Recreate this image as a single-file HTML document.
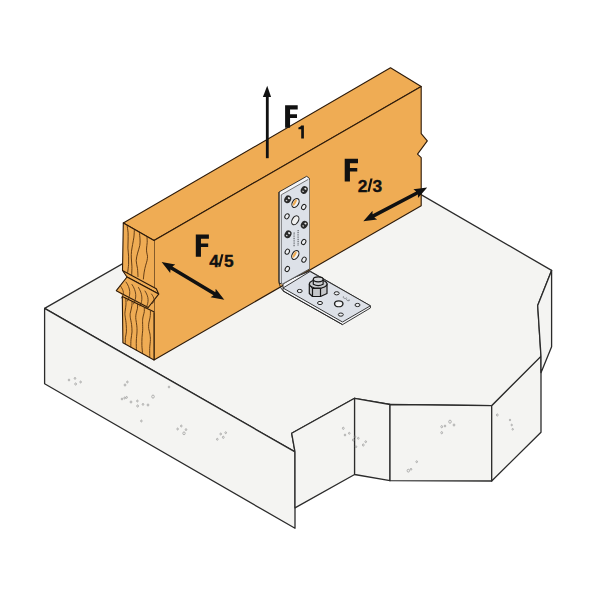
<!DOCTYPE html>
<html><head><meta charset="utf-8">
<style>
html,body{margin:0;padding:0;background:#fff;width:600px;height:600px;overflow:hidden}
svg{display:block}
text{font-family:"Liberation Sans",sans-serif;font-weight:bold;fill:#111}
</style></head><body>
<svg width="600" height="600" viewBox="0 0 600 600">
<rect width="600" height="600" fill="#fff"/>
<g fill="#f4f4f2" stroke="#2b2b2b" stroke-width="1.3" stroke-linejoin="round">
<polygon points="44.6,308.4 332.7,143.4 551.6,270.4 537.7,305.5 541,356.4 491.7,405.7 390,404.5 354.6,398.3 291.7,433.3 295,451.9"/>
<polygon points="44.6,308.4 295,451.9 295,528.3 44.6,383.8"/>
<polygon points="291.7,433.3 354.6,398.3 354.6,474.5 295,507.9 295,451.9"/>
<polygon points="354.6,398.3 390,404.5 390,480.7 354.6,474.5"/>
<polygon points="390,404.5 491.7,405.7 491.7,481 390,480.7"/>
<polygon points="491.7,405.7 541,356.4 541,432.2 491.7,481"/>
<polygon points="551.6,270.4 551.6,346.7 541,372.7 541,356.4 537.7,305.5"/>
</g>
<g fill="none" stroke="#8a8a8a" stroke-width="0.6"><ellipse cx="69" cy="380" rx="0.8" ry="0.96"/><ellipse cx="75" cy="378.4" rx="0.8" ry="0.96"/><ellipse cx="75.6" cy="384" rx="0.9" ry="1.08"/><ellipse cx="80.6" cy="382" rx="0.8" ry="0.96"/><ellipse cx="125" cy="385" rx="0.9" ry="1.08"/><ellipse cx="127.4" cy="382" rx="0.8" ry="0.96"/><ellipse cx="122" cy="399" rx="0.8" ry="0.96"/><ellipse cx="124.6" cy="398" rx="0.8" ry="0.96"/><ellipse cx="126.6" cy="397.4" rx="0.8" ry="0.96"/><ellipse cx="131" cy="402" rx="0.9" ry="1.08"/><ellipse cx="137.4" cy="401" rx="0.8" ry="0.96"/><ellipse cx="137.6" cy="406" rx="0.9" ry="1.08"/><ellipse cx="143" cy="404.4" rx="0.8" ry="0.96"/><ellipse cx="148" cy="405" rx="0.9" ry="1.08"/><ellipse cx="153" cy="396.6" rx="1.3" ry="1.56"/><ellipse cx="169" cy="387" rx="0.8" ry="0.96"/><ellipse cx="141.4" cy="421" rx="0.8" ry="0.96"/><ellipse cx="177.6" cy="429" rx="0.8" ry="0.96"/><ellipse cx="181.3" cy="426" rx="0.8" ry="0.96"/><ellipse cx="186" cy="429.6" rx="0.8" ry="0.96"/><ellipse cx="184" cy="433.3" rx="1.2" ry="1.44"/><ellipse cx="217.3" cy="439.3" rx="0.8" ry="0.96"/><ellipse cx="220.7" cy="434" rx="0.8" ry="0.96"/><ellipse cx="223.3" cy="437.3" rx="0.9" ry="1.08"/><ellipse cx="225.7" cy="432.7" rx="0.8" ry="0.96"/><ellipse cx="343.3" cy="428.3" rx="0.9" ry="1.08"/><ellipse cx="345" cy="435" rx="0.8" ry="0.96"/><ellipse cx="349.3" cy="433.3" rx="0.8" ry="0.96"/><ellipse cx="353.3" cy="440" rx="0.9" ry="1.08"/><ellipse cx="355" cy="436.7" rx="0.8" ry="0.96"/><ellipse cx="358.3" cy="438.3" rx="0.8" ry="0.96"/><ellipse cx="356" cy="446.7" rx="0.8" ry="0.96"/><ellipse cx="363.3" cy="445" rx="0.9" ry="1.08"/><ellipse cx="365.7" cy="441.7" rx="0.8" ry="0.96"/><ellipse cx="441.7" cy="426.7" rx="0.9" ry="1.08"/><ellipse cx="445" cy="426" rx="0.8" ry="0.96"/><ellipse cx="441.7" cy="432.7" rx="0.9" ry="1.08"/><ellipse cx="450" cy="421.7" rx="1.3" ry="1.56"/><ellipse cx="454" cy="425" rx="0.9" ry="1.08"/><ellipse cx="408.3" cy="470.7" rx="1.2" ry="1.44"/><ellipse cx="411" cy="469.3" rx="0.8" ry="0.96"/><ellipse cx="416.7" cy="461.7" rx="0.8" ry="0.96"/><ellipse cx="497.3" cy="415" rx="0.9" ry="1.08"/><ellipse cx="510" cy="420" rx="0.7" ry="0.84"/><ellipse cx="511.7" cy="425" rx="0.7" ry="0.84"/><ellipse cx="512.7" cy="429.3" rx="0.7" ry="0.84"/></g>
<g fill="#efac54" stroke="#2c1a0a" stroke-width="1.1" stroke-linejoin="round">
<polygon points="123.3,222.9 390.5,67.8 421.2,86.5 154,240.4"/>
<polygon points="154,240.4 421.2,86.5 421.2,133.7 427.3,140.9 417.5,154.2 421.2,157.7 421.2,205.7 154,360"/>
</g>
<polygon fill="#efac54" points="123.3,222.9 154,240.4 154,360 122.9,342.7 122.3,295.3 116.3,290.7 127,277 122.5,270.5"/>
<g fill="none" stroke="#5e3812" stroke-width="0.95" stroke-linecap="round"><path d="M127.2,225.6 C127.3,226.8 127.9,230.4 128.1,232.8 C128.2,235.2 128.1,237.4 128.1,240.0 C128.1,242.6 127.9,245.4 127.9,248.1 C128.0,250.8 128.5,253.5 128.6,256.2 C128.7,258.9 128.7,261.6 128.6,264.3 C128.4,267.0 127.8,271.0 127.7,272.4"/><path d="M134.4,229.6 C134.3,230.8 134.2,234.6 133.9,237.1 C133.6,239.5 133.0,242.1 132.6,244.5 C132.2,246.9 131.8,249.0 131.5,251.2 C131.3,253.5 131.2,255.5 131.3,258.0 C131.4,260.5 131.8,263.5 131.9,266.2 C132.0,269.0 131.7,273.1 131.7,274.5"/><path d="M139.4,232.5 C139.5,233.6 139.9,236.8 140.0,238.9 C140.1,241.1 140.2,243.1 139.8,245.4 C139.4,247.8 138.2,250.5 137.6,253.1 C137.0,255.6 136.2,258.1 136.2,260.7 C136.2,263.3 137.2,266.0 137.5,268.6 C137.8,271.2 137.9,275.2 138.0,276.5"/><path d="M147.0,236.8 C147.0,237.7 147.3,240.5 147.2,242.4 C147.1,244.3 146.7,246.4 146.6,248.0 C146.5,249.6 146.5,250.7 146.7,252.1 C146.8,253.5 147.4,254.8 147.5,256.2 C147.6,257.6 147.3,259.2 147.0,260.7 C146.7,262.2 146.2,263.3 145.7,265.2 C145.2,267.1 144.5,269.8 144.2,272.1 C143.8,274.4 143.5,277.9 143.4,279.0"/><path d="M125.8,298.2 C125.8,299.2 126.0,302.1 126.0,304.1 C125.9,306.1 125.5,308.4 125.3,310.0 C125.1,311.6 124.9,312.4 124.9,313.6 C124.9,314.9 125.1,315.5 125.3,317.3 C125.5,319.1 126.1,322.2 126.2,324.6 C126.4,327.0 126.5,329.7 126.4,331.9 C126.3,334.1 125.6,335.8 125.4,337.7 C125.3,339.6 125.3,342.5 125.3,343.5"/><path d="M132.0,301.6 C132.0,302.3 132.1,304.4 131.9,305.8 C131.7,307.2 131.3,308.7 131.0,310.0 C130.7,311.3 130.4,312.4 130.2,313.6 C130.1,314.9 130.1,315.5 130.3,317.3 C130.5,319.1 131.3,322.2 131.6,324.6 C131.8,327.0 132.1,329.4 132.0,331.9 C131.9,334.4 131.2,336.9 131.0,339.4 C130.8,342.0 130.8,345.7 130.8,347.0"/><path d="M137.6,304.5 C137.6,305.1 137.6,307.0 137.5,308.2 C137.3,309.5 136.8,310.7 136.5,312.0 C136.2,313.3 135.9,314.5 135.8,315.8 C135.7,317.1 135.7,317.9 135.9,319.6 C136.1,321.3 136.7,323.7 136.8,325.8 C137.0,327.8 137.1,329.3 137.0,331.9 C136.9,334.4 136.4,338.0 136.3,341.0 C136.2,344.1 136.4,348.7 136.4,350.2"/><path d="M144.3,308.2 C144.3,308.8 144.4,310.5 144.3,311.6 C144.2,312.7 143.8,313.8 143.5,315.0 C143.2,316.2 142.8,317.7 142.7,319.0 C142.5,320.3 142.6,321.1 142.6,323.0 C142.6,324.9 142.8,327.8 142.7,330.2 C142.6,332.7 142.1,334.9 142.0,337.5 C141.9,340.1 141.8,342.9 141.9,345.6 C142.0,348.2 142.5,352.3 142.6,353.6"/><path d="M150.4,311.3 C150.4,312.0 150.5,314.2 150.3,315.6 C150.2,317.1 149.8,318.6 149.5,320.0 C149.2,321.4 148.8,322.8 148.7,324.2 C148.6,325.7 148.5,326.9 148.7,328.5 C148.9,330.1 149.7,332.2 150.0,334.1 C150.2,336.0 150.4,337.3 150.4,339.7 C150.4,342.1 149.8,345.5 149.7,348.4 C149.6,351.2 149.8,355.6 149.8,357.0"/></g>
<g fill="#efac54" stroke="#2c1a0a" stroke-width="1.1" stroke-linejoin="round">
<polygon points="122.5,270.5 156.3,288.8 158.7,294.1 127,277"/>
<polygon points="116.3,290.7 127,277 158.7,294.1 148.2,307.5"/>
</g>
<g fill="none" stroke="#4a2c10" stroke-width="0.8" stroke-linecap="round">
<path d="M120.5,286 C124,291 124.5,294 121.5,298"/>
<path d="M126,282 C130.5,288 131,295 127.5,301"/>
<path d="M132,284.5 C136.5,291 137,298 133.5,304"/>
<path d="M138.5,287.5 C142.5,294 143,300 140,306"/>
<path d="M145,291 C149,297 149,302 146,308"/>
<path d="M151.5,294 C154.5,298 155,301 152.5,303.5"/>
</g>
<g fill="none" stroke="#2c1a0a" stroke-width="1.1" stroke-linejoin="round" stroke-linecap="round">
<path d="M123.3,222.9 L154,240.4 M123.3,222.9 L122.5,270.5 M122.3,296 L122.9,342.7 L154,360 L154,312.75 M122.3,296.5 L153.8,311.8"/>
</g>
<g stroke="#222" stroke-width="0.9" stroke-linejoin="round">
<path fill="#f4f5f8" d="M279,192 L306.7,176.3 L309.3,178.3 L309.3,269 L283,284 L283,291 L342.5,324.6 L370.4,308 L370.4,305.8 L310,271 L281,283 Q279,286 279,281 Z"/>
<polygon fill="#dde1e8" stroke="none" points="281.3,194.8 308,179.5 309.3,180 309.3,269 281.3,285"/>
<line x1="281.3" y1="194.8" x2="281.3" y2="284" stroke-width="0.6"/>
<line x1="281.3" y1="194.8" x2="308" y2="179.5" stroke-width="0.6"/>
<polygon fill="#dde1e8" points="283,288 310,271.5 370.4,305.8 342.5,322"/>
<path fill="none" d="M279,192 L279,281 Q279.5,289 285,292 L342.5,324.6"/>
<line x1="281.5" y1="284.5" x2="309.3" y2="269" stroke-width="0.6"/>
</g>
<g transform="rotate(30 304.25 190)"><ellipse cx="304.25" cy="190" rx="3.3" ry="4.0" fill="#2a2a2a"/><ellipse cx="304.65" cy="188.4" rx="1.2" ry="0.9" fill="#e8e8e8"/><ellipse cx="303.85" cy="191.7" rx="0.9" ry="0.7" fill="#d0d0d0"/></g><g transform="rotate(30 287.75 199.3)"><ellipse cx="287.75" cy="199.3" rx="3.3" ry="4.0" fill="#2a2a2a"/><ellipse cx="288.15" cy="197.70000000000002" rx="1.2" ry="0.9" fill="#e8e8e8"/><ellipse cx="287.35" cy="201.0" rx="0.9" ry="0.7" fill="#d0d0d0"/></g><g transform="rotate(30 304.3 224.7)"><ellipse cx="304.3" cy="224.7" rx="3.3" ry="4.0" fill="#2a2a2a"/><ellipse cx="304.7" cy="223.1" rx="1.2" ry="0.9" fill="#e8e8e8"/><ellipse cx="303.90000000000003" cy="226.39999999999998" rx="0.9" ry="0.7" fill="#d0d0d0"/></g><g transform="rotate(30 288 234.3)"><ellipse cx="288" cy="234.3" rx="3.3" ry="4.0" fill="#2a2a2a"/><ellipse cx="288.4" cy="232.70000000000002" rx="1.2" ry="0.9" fill="#e8e8e8"/><ellipse cx="287.6" cy="236.0" rx="0.9" ry="0.7" fill="#d0d0d0"/></g>
<g transform="rotate(30 295.5 203)"><ellipse cx="295.5" cy="203" rx="3.1" ry="4.8" fill="#f2f2f2" stroke="#222" stroke-width="1.1"/><ellipse cx="294.6" cy="203" rx="1.2" ry="3.6" fill="#efac54"/></g><g transform="rotate(30 295.3 220.3)"><ellipse cx="295.3" cy="220.3" rx="3.1" ry="4.8" fill="#f2f2f2" stroke="#222" stroke-width="1.1"/><ellipse cx="294.40000000000003" cy="220.3" rx="1.2" ry="3.6" fill="#f0f0ee"/></g><g transform="rotate(30 295.3 255)"><ellipse cx="295.3" cy="255" rx="3.1" ry="4.8" fill="#f2f2f2" stroke="#222" stroke-width="1.1"/><ellipse cx="294.40000000000003" cy="255" rx="1.2" ry="3.6" fill="#efac54"/></g>
<ellipse cx="303.75" cy="207" rx="2.0" ry="2.7" transform="rotate(30 303.75 207)" fill="#eef0f3" stroke="#222" stroke-width="1.0"/><ellipse cx="287" cy="216.3" rx="2.0" ry="2.7" transform="rotate(30 287 216.3)" fill="#eef0f3" stroke="#222" stroke-width="1.0"/><ellipse cx="303.7" cy="242" rx="2.0" ry="2.7" transform="rotate(30 303.7 242)" fill="#eef0f3" stroke="#222" stroke-width="1.0"/><ellipse cx="287.3" cy="251.7" rx="2.0" ry="2.7" transform="rotate(30 287.3 251.7)" fill="#eef0f3" stroke="#222" stroke-width="1.0"/><ellipse cx="304" cy="259.7" rx="2.0" ry="2.7" transform="rotate(30 304 259.7)" fill="#eef0f3" stroke="#222" stroke-width="1.0"/><ellipse cx="287.3" cy="269" rx="2.0" ry="2.7" transform="rotate(30 287.3 269)" fill="#eef0f3" stroke="#222" stroke-width="1.0"/>
<g stroke="#6a6e74" stroke-width="1.3" stroke-dasharray="1.1 0.7" fill="none">
<path d="M294.2,232.5 C293.8,238 294.4,242 294,246.8"/>
<path d="M298.2,230 C297.8,236 298.4,241 298,245.6"/>
</g>
<g fill="none" stroke="#6a6e74" stroke-width="0.7">
<path d="M343.5,296.2 A1.8,1.4 0 1,0 346.6,297.6"/>
<path d="M346.8,298.5 A1.8,1.4 0 1,0 349.9,299.9 M347.5,300.3 L349.5,300.1"/>
</g>
<ellipse cx="299.7" cy="291" rx="2.5" ry="1.6" fill="#eef0f3" stroke="#222" stroke-width="1.0"/><ellipse cx="336.7" cy="293.3" rx="2.5" ry="1.6" fill="#eef0f3" stroke="#222" stroke-width="1.0"/><ellipse cx="320" cy="303" rx="2.5" ry="1.6" fill="#eef0f3" stroke="#222" stroke-width="1.0"/><ellipse cx="357.5" cy="305" rx="2.5" ry="1.6" fill="#eef0f3" stroke="#222" stroke-width="1.0"/><ellipse cx="340.8" cy="314.6" rx="2.5" ry="1.6" fill="#eef0f3" stroke="#222" stroke-width="1.0"/>
<ellipse cx="338.75" cy="303.75" rx="4.2" ry="2.9" fill="#eef0f3" stroke="#222" stroke-width="1.4"/>
<ellipse cx="338.75" cy="304.7" rx="2.6" ry="1.5" fill="#f8f8f8"/>
<g stroke="#161616" stroke-width="1.2" stroke-linejoin="round">
<path fill="#c4c6c9" d="M309.3,284 L312.5,288.5 L320.5,288.5 L327,284 L327,293.5 L320.5,296.5 L312.5,296.5 L309.3,293.5 Z"/>
<path fill="none" d="M312.5,288.5 L312.5,296.5 M320.5,288.5 L320.5,296.5"/>
<ellipse cx="318.2" cy="284" rx="8.9" ry="4.2" fill="#c9cbce"/>
<path fill="#cfd1d4" d="M313.3,279.3 L313.3,284.3 Q318.2,286.8 323.1,284.3 L323.1,279.3 Z"/>
<ellipse cx="318.2" cy="279.3" rx="4.9" ry="2.5" fill="#d3d5d8"/>
</g>

<g fill="#111">
<polygon points="161.6,262.1 170.2,273.1 170.5,269.6 213.5,295.3 210.6,297.3 224.3,299.7 215.7,288.7 215.4,292.2 172.4,266.5 175.3,264.5"/>
<polygon points="363.3,221.2 377.1,219.6 374.3,217.4 417.9,194.5 418.0,198.1 427.2,187.6 413.4,189.2 416.2,191.4 372.6,214.3 372.5,210.7"/>
<rect x="265.9" y="95" width="2.8" height="63.2"/>
<polygon points="267.2,85.8 262.9,96.9 271.1,96.9"/>
</g>
<g fill="#111">
<path transform="translate(285.1,105.3) scale(0.9921,1.0000)" d="M0,0 H12.7 V4.3 H5 V9 H12 V12.7 H5 V22.4 H0 Z"/>
<path transform="translate(344.7,158.8) scale(1.0472,1.0089)" d="M0,0 H12.7 V4.3 H5 V9 H12 V12.7 H5 V22.4 H0 Z"/>
<path transform="translate(195.8,234.5) scale(1.0315,0.9911)" d="M0,0 H12.7 V4.3 H5 V9 H12 V12.7 H5 V22.4 H0 Z"/>
<path d="M301.2,125.5 L303.9,125.5 L303.9,138.5 L301.2,138.5 L301.2,129.3 L298.4,129.3 L298.4,127.4 Q300.6,127.1 301.2,125.5 Z"/>
</g>
<g stroke="#111" stroke-width="0.35">
<text x="357.7" y="191.8" font-size="17.4">2</text>
<text x="372.6" y="191.8" font-size="17.4">3</text>
<text x="209.2" y="266.8" font-size="17.4">4</text>
<text x="224" y="266.8" font-size="17.4">5</text>
</g>
<g fill="#111">
<polygon points="367.4,191.8 369.6,191.8 372.6,178.6 370.4,178.6"/>
<polygon points="218.2,266.8 220.4,266.8 223.5,254.3 221.3,254.3"/>
</g>
</svg>
</body></html>
